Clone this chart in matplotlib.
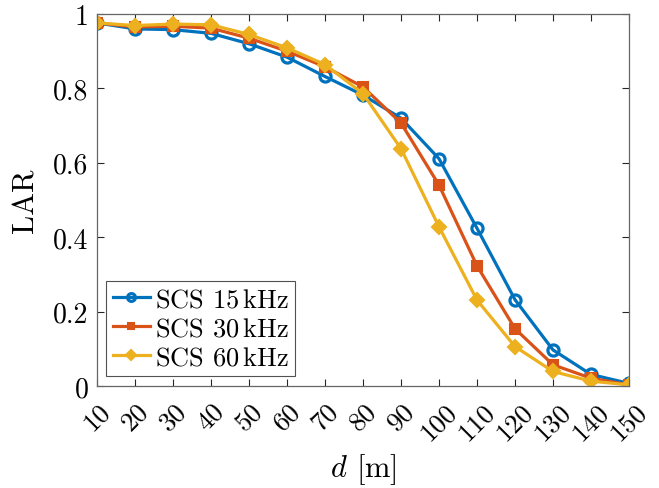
import matplotlib
matplotlib.use("Agg")
import matplotlib.pyplot as plt
import numpy as np

plt.rcParams['font.family'] = 'serif'
plt.rcParams['font.serif'] = ['cmr10']
plt.rcParams['mathtext.fontset'] = 'cm'
plt.rcParams['axes.formatter.use_mathtext'] = True

d = [10, 20, 30, 40, 50, 60, 70, 80, 90, 100, 110, 120, 130, 140, 150]
lar_15 = [0.976, 0.960, 0.958, 0.948, 0.920, 0.884, 0.832, 0.782, 0.720, 0.611, 0.424, 0.232, 0.097, 0.031, 0.007]
lar_30 = [0.976, 0.965, 0.967, 0.962, 0.935, 0.900, 0.858, 0.804, 0.707, 0.540, 0.323, 0.154, 0.057, 0.021, 0.003]
lar_60 = [0.976, 0.969, 0.973, 0.971, 0.945, 0.909, 0.864, 0.786, 0.638, 0.428, 0.231, 0.106, 0.039, 0.013, 0.003]
labels = [r'SCS $15\,\mathrm{kHz}$', r'SCS $30\,\mathrm{kHz}$', r'SCS $60\,\mathrm{kHz}$']
yticks = [0, 0.2, 0.4, 0.6, 0.8, 1]
ytick_labels = ['0', '0.2', '0.4', '0.6', '0.8', '1']

c1, c2, c3 = '#0072BD', '#D95319', '#EDB120'

fig = plt.figure(figsize=(6.59, 4.89), dpi=100)
ax = fig.add_axes([97/659, 1-387/489, (629-97)/659, (387-15)/489])

ax.plot(d, lar_15, '-o', color=c1, lw=2.3, ms=8, mfc='none', mew=2.3, label=labels[0])
ax.plot(d, lar_30, '-s', color=c2, lw=2.3, ms=7, mfc=c2, mew=1.5, label=labels[1])
ax.plot(d, lar_60, '-D', color=c3, lw=2.3, ms=7, mfc=c3, mew=1.5, label=labels[2])

ax.set_xlim(10, 150)
ax.set_ylim(0, 1)
ax.set_xticks(d)
ax.set_xticklabels([str(v) for v in d], rotation=45, fontsize=19.5)
ax.set_yticks(yticks)
ax.set_yticklabels(ytick_labels, fontsize=20)
ax.tick_params(direction='in', top=True, right=True, length=5, width=0.8, colors='0.15')
ax.tick_params(axis='x', pad=9)
ax.tick_params(axis='y', pad=6)
for lab in ax.get_xticklabels() + ax.get_yticklabels():
    lab.set_color('black')
for s in ax.spines.values():
    s.set_color('0.4')
    s.set_linewidth(0.9)

ax.set_ylabel('LAR', fontsize=22)
ax.yaxis.set_label_coords(-0.108, 0.5)
ax.set_xlabel(r'$d$ [m]', fontsize=22)
ax.xaxis.set_label_coords(0.5, -0.175)

leg = ax.legend(loc='lower left', bbox_to_anchor=(9/532, 10/372), fontsize=19,
                frameon=True, fancybox=False, edgecolor='0.15', handlelength=1.4,
                borderpad=0.25, labelspacing=0.2, handletextpad=0.2, borderaxespad=0,
                markerscale=0.7)
leg.get_frame().set_linewidth(0.8)

fig.savefig('out.png', dpi=100)
